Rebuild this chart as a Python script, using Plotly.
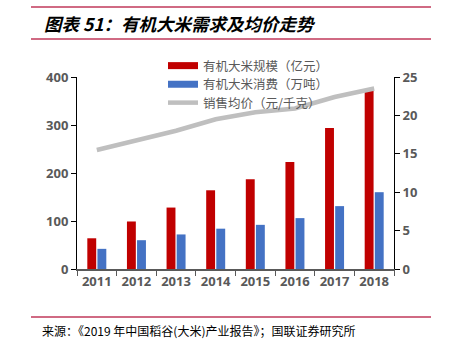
import plotly.graph_objects as go

years = ["2011", "2012", "2013", "2014", "2015", "2016", "2017", "2018"]
market_size = [64, 99, 128, 164, 187, 223, 294, 372]       # 有机大米规模（亿元）
consumption = [42, 60, 72, 84, 92, 106, 131, 160]           # 有机大米消费（万吨）
avg_price = [15.5, 16.8, 18.0, 19.5, 20.4, 20.9, 22.4, 23.5]  # 销售均价（元/千克）

names = ["有机大米规模（亿元）", "有机大米消费（万吨）", "销售均价（元/千克）"]
RED, BLUE, GRAY = "#C00000", "#4472C4", "#BFBFBF"
CJK = "Noto Sans CJK SC"

fig = go.Figure()
fig.add_trace(go.Bar(x=years, y=market_size, name=names[0], marker_color=RED,
                     marker_line_width=0, showlegend=False))
fig.add_trace(go.Bar(x=years, y=consumption, name=names[1], marker_color=BLUE,
                     marker_line_width=0, showlegend=False))
fig.add_trace(go.Scatter(x=years, y=avg_price, name=names[2], yaxis="y2",
                         mode="lines", line=dict(color=GRAY, width=4.5), showlegend=False))
# legend entries, one legend each for exact row spacing
legend_ids = ["legend", "legend2", "legend3"]
for nm, col, lg in zip(names, [RED, BLUE, GRAY], legend_ids):
    fig.add_trace(go.Scatter(x=[None], y=[None], name=nm, mode="lines", legend=lg,
                             line=dict(color=col, width=7 if col != GRAY else 4.5)))

def px_to_paper_y(py):
    return (269 - py) / 192

legend_common = dict(xanchor="left", yanchor="middle",
                     font=dict(family=CJK, size=12.5, color="#595959"),
                     itemwidth=30, bgcolor="rgba(0,0,0,0)", borderwidth=0)
lx = (163 - 77) / 317
legend_rows = [66, 84.5, 103]

fig.update_layout(
    width=452, height=346,
    margin=dict(l=77, r=58, t=77, b=77),
    paper_bgcolor="white", plot_bgcolor="white",
    barmode="group", bargap=0.49, bargroupgap=0.12,
    font=dict(family=CJK, color="#595959"),
    xaxis=dict(type="category", showgrid=False, showline=True, linecolor="#595959",
               linewidth=1.5, ticks="outside", tickson="boundaries", ticklen=5,
               tickcolor="#595959", tickfont=dict(family="Noto Sans", size=13,
                                                   color="#595959", weight="bold")),
    yaxis=dict(range=[0, 400], dtick=100, showgrid=False, showline=True,
               linecolor="black", linewidth=1, ticks="outside", ticklen=5,
               tickcolor="black", zeroline=False,
               tickfont=dict(family="Noto Sans", size=13, color="#595959", weight="bold")),
    yaxis2=dict(range=[0, 25], dtick=5, overlaying="y", side="right", showgrid=False,
                showline=True, linecolor="black", linewidth=1, ticks="outside",
                ticklen=5, tickcolor="black", zeroline=False,
                tickfont=dict(family="Noto Sans", size=13, color="#595959", weight="bold")),
    legend=dict(x=lx, y=px_to_paper_y(legend_rows[0]), **legend_common),
    legend2=dict(x=lx, y=px_to_paper_y(legend_rows[1]), **legend_common),
    legend3=dict(x=lx, y=px_to_paper_y(legend_rows[2]), **legend_common),
    showlegend=True,
)

line_col = "#C0395A"
for ypx in [7, 39, 317]:
    fig.add_shape(type="line", xref="paper", yref="paper", x0=(31 - 77) / 317, x1=(431 - 77) / 317,
                  y0=px_to_paper_y(ypx), y1=px_to_paper_y(ypx),
                  line=dict(color=line_col, width=1.5))

fig.add_annotation(text="<b><i>图表 51：有机大米需求及均价走势</i></b>", xref="paper", yref="paper",
                   x=(42 - 77) / 317, y=px_to_paper_y(24), xanchor="left", yanchor="middle",
                   showarrow=False, font=dict(family=CJK, size=17.5, color="black"))
fig.add_annotation(text="来源：《2019 年中国稻谷(大米)产业报告》；国联证券研究所", xref="paper", yref="paper",
                   x=(40 - 77) / 317, y=px_to_paper_y(330), xanchor="left", yanchor="middle",
                   showarrow=False, font=dict(family=CJK, size=12, color="black"))

fig.write_html("out.html")
